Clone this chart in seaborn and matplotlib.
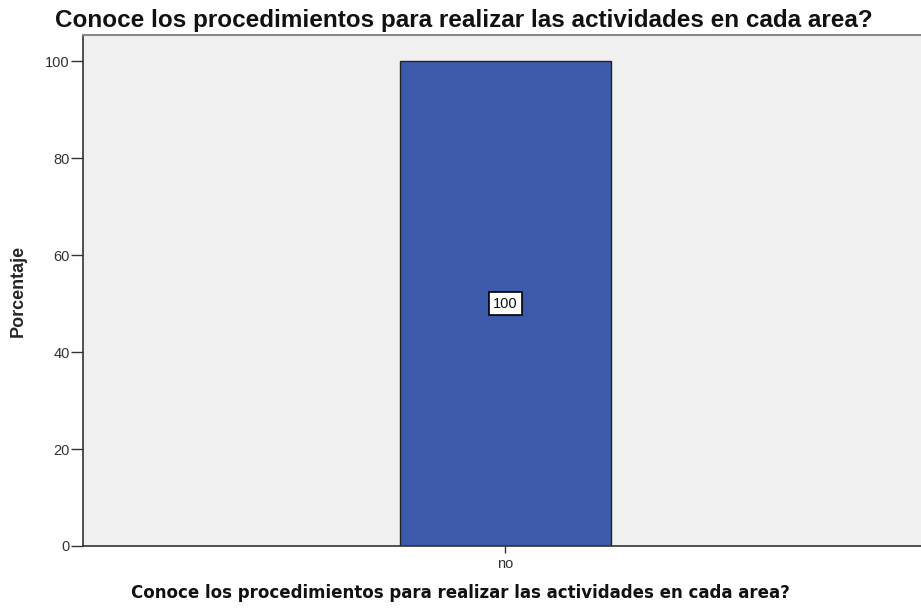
import matplotlib
matplotlib.use("Agg")
import matplotlib.pyplot as plt
import seaborn as sns
import pandas as pd

# datos
categorias = ["no"]
porcentajes = [100]
etiquetas = ["100"]

titulo = "Conoce los procedimientos para realizar las actividades en cada area?"

sns.set_style("white")
plt.rcParams["font.family"] = ["Liberation Sans", "DejaVu Sans"]

df = pd.DataFrame({"cat": categorias, "pct": porcentajes})

fig = plt.figure(figsize=(9.21, 6.08), dpi=100)
ax = fig.add_axes([0.0901, 0.102, 0.9175, 0.8406])
ax.set_facecolor("#F0F0F0")

sns.barplot(data=df, x="cat", y="pct", color="#3D59AB", saturation=1,
            width=1.0, edgecolor="#222222", linewidth=1.0, ax=ax)

for i, (v, t) in enumerate(zip(porcentajes, etiquetas)):
    ax.text(i, v / 2, t, ha="center", va="center", fontsize=10.5, color="#111111",
            bbox=dict(boxstyle="square,pad=0.3", fc="white", ec="black", lw=1.2))

ax.set_xlim(-2.0, 2.0)
ax.set_ylim(0, 105.4)
ax.set_yticks([0, 20, 40, 60, 80, 100])
ax.tick_params(axis="both", length=8.5, width=1, color="#333333", pad=1,
               labelsize=10.5, labelcolor="#333333", direction="out", left=True, bottom=True)
ax.tick_params(axis="x", length=5, pad=3)
ax.set_xlabel("")
ax.set_ylabel("Porcentaje", fontsize=13, fontweight="bold")
ax.yaxis.set_label_coords(-0.066, 0.5)

for s in ["left", "bottom"]:
    ax.spines[s].set_color("#333333")
    ax.spines[s].set_linewidth(1.2)
ax.spines["top"].set_color("#888888")
ax.spines["top"].set_linewidth(1.5)
ax.spines["right"].set_visible(False)

fig.text(0.06, 1 - 27 / 608, titulo, fontsize=17.5, fontweight="bold", ha="left", va="baseline",
         color="#111111")
fig.text(0.5, 0.025, titulo, fontsize=12, fontweight="bold", ha="center", va="center",
         family="DejaVu Sans", color="#111111")

plt.savefig("out.png", dpi=100)
